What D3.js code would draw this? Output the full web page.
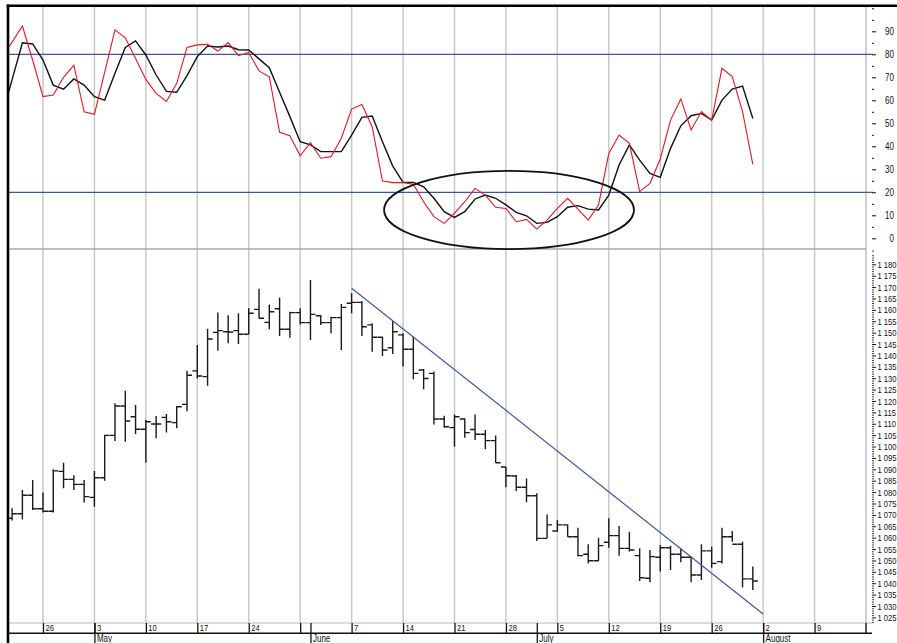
<!DOCTYPE html>
<html><head><meta charset="utf-8">
<script src="https://cdn.jsdelivr.net/npm/d3@7"></script>
<style>
body{margin:0;background:#fff}
svg{display:block}
text{font-family:"Liberation Sans",Arial,sans-serif;fill:#111}
</style>
</head><body><svg id="c" width="897" height="643"></svg>
<script>
// ---------- DATA ----------
const firstDay = "2004-04-20";           // first weekday slot (stochastic starts here)
const barsStart = "2004-04-21";          // OHLC bars start here
const openP  = [1068.5,1070.5,1078.6,1072.7,1071.6,1089.1,1085.6,1083.4,1077.7,1086.3,1104.9,1117.8,1113.1,1107.6,1109.9,1112.8,1110.5,1118.5,1133.2,1130.7,1150.1,1150.4,1150.9,1149.3,1160.2,1154.5,1160.5,1151.5,1158.8,1154.4,1157.4,1154.4,1156.6,1162.9,1163.3,1153.4,1148.0,1143.4,1149.0,1142.7,1133.6,1132.1,1112.1,1108.3,1112.1,1107.5,1105.4,1102.6,1091.0,1087.1,1082.1,1078.4,1059.7,1062.9,1065.6,1060.4,1052.7,1049.9,1058.0,1060.9,1055.3,1052.1,1042.2,1051.4,1055.6,1052.7,1051.4,1043.6,1054.2,1049.5,1060.4,1057.1,1041.9];
const highP  = [1072.9,1080.9,1085.3,1079.8,1090.0,1092.9,1087.4,1085.3,1089.3,1105.2,1119.0,1124.5,1118.2,1111.7,1113.4,1114.3,1117.8,1133.3,1144.6,1151.7,1158.8,1157.6,1158.5,1160.7,1169.3,1162.3,1165.4,1159.2,1160.7,1173.1,1157.7,1157.0,1162.6,1167.3,1163.9,1154.1,1148.2,1155.1,1149.7,1148.2,1134.0,1132.9,1113.5,1114.1,1112.4,1114.1,1107.3,1104.8,1091.0,1087.5,1086.0,1079.5,1070.2,1067.8,1065.8,1064.4,1057.1,1060.0,1068.5,1065.1,1062.6,1055.3,1054.6,1056.8,1056.5,1055.3,1051.7,1057.1,1056.0,1064.4,1062.9,1058.2,1047.3];
const lowP   = [1067.5,1068.0,1072.1,1071.0,1071.0,1081.7,1080.9,1075.4,1073.6,1085.0,1102.4,1102.1,1105.5,1092.9,1103.6,1106.2,1108.0,1115.5,1129.9,1126.7,1142.1,1145.3,1145.0,1149.3,1156.3,1151.5,1148.5,1147.8,1153.6,1146.8,1153.3,1149.7,1142.4,1158.5,1148.5,1141.6,1139.7,1140.6,1135.1,1129.5,1125.1,1109.7,1108.3,1099.9,1103.9,1102.9,1098.8,1092.9,1082.1,1080.5,1075.5,1058.5,1059.7,1062.6,1060.4,1051.7,1048.7,1049.8,1055.6,1052.1,1053.9,1041.0,1040.4,1045.1,1045.8,1049.2,1040.4,1041.4,1046.8,1048.7,1058.2,1038.1,1037.0];
const closeP = [1070.5,1078.6,1072.7,1071.6,1089.3,1085.6,1083.4,1078.0,1086.3,1104.9,1117.8,1111.2,1107.6,1110.9,1109.9,1110.9,1117.5,1131.3,1131.0,1147.2,1150.9,1150.3,1149.3,1158.5,1156.3,1159.2,1151.5,1158.8,1154.4,1158.0,1154.4,1156.6,1161.1,1163.3,1152.6,1148.0,1142.4,1150.4,1142.7,1132.1,1129.9,1112.1,1108.7,1113.1,1106.1,1105.4,1102.6,1092.9,1087.2,1082.1,1078.4,1059.7,1065.6,1065.6,1060.4,1052.1,1049.9,1056.5,1060.9,1055.3,1054.6,1042.4,1051.7,1055.6,1052.7,1051.4,1043.6,1054.2,1048.7,1060.4,1057.1,1041.9,1041.0];
const pctK = [78.6,85.3,92.3,77.4,61.6,62.3,70.0,75.3,55.0,53.9,72.3,90.6,87.2,78.2,69.1,63.0,59.5,67.4,83.0,84.1,84.3,81.4,85.1,79.4,80.8,72.8,70.2,46.1,44.6,35.9,41.6,34.8,35.5,43.5,56.2,58.2,48.5,24.9,24.2,24.2,23.5,15.9,9.4,6.5,10.9,15.9,21.7,18.8,13.5,13.0,7.2,8.2,4.0,7.9,13.0,17.4,12.7,7.9,14.5,36.9,44.9,41.3,20.3,23.9,34.5,51.4,60.6,47.1,55.1,51.4,73.9,70.3,55.1,32.1];
const pctD = [53.2,69.0,85.0,84.5,77.5,66.6,64.8,69.3,66.6,61.6,60.1,71.8,83.0,85.8,79.7,71.0,63.9,63.5,70.7,79.0,83.6,83.2,83.6,82.0,81.9,78.0,74.2,63.5,52.9,42.0,40.6,37.7,37.7,37.7,44.9,52.6,53.2,42.0,31.4,24.3,24.3,22.4,17.4,11.6,9.1,11.6,17.1,18.8,17.4,14.5,11.3,9.8,6.5,6.9,9.4,13.5,14.2,12.7,12.3,18.8,31.9,40.6,34.0,28.2,26.5,39.1,48.9,53.3,54.3,51.4,60.1,64.9,66.2,52.1];
const weekTickDates  = ["2004-04-26","2004-05-03","2004-05-10","2004-05-17","2004-05-24","2004-05-31","2004-06-07","2004-06-14","2004-06-21","2004-06-28","2004-07-05","2004-07-12","2004-07-19","2004-07-26","2004-08-02","2004-08-09"];
const weekTickLabels = ["26","3","10","17","24","","7","14","21","28","5","12","19","26","2","9"];
const monthTickDates  = ["2004-05-03","2004-06-01","2004-07-01","2004-08-02"];
const monthTickLabels = ["May","June","July","August"];
const stochLevels = [80, 20];
const trendLine = [{date:"2004-06-07", value:1169.5}, {date:"2004-08-02", value:1026.5}];
const ellipseNote = {fromSlot:37.15, toSlot:61.45, top:29.3, bottom:-4.7};

// ---------- SETUP ----------
const svg = d3.select("#c");
const parse = d3.timeParse("%Y-%m-%d");
const t0 = parse(firstDay);
const slotOf = ds => d3.timeDays(t0, parse(ds)).filter(d => d.getDay() % 6 !== 0).length;
const barOffset = slotOf(barsStart);
const NARROW = 0.8;   // emulate a condensed face

const L = 8, R = 866;
const x = d3.scaleLinear().domain([0.6, 84]).range([L, R]);
const yTop = d3.scaleLinear().domain([0, 100]).range([238.3, 8.3]);
const yBot = d3.scaleLinear().domain([1025, 1180]).range([617.4, 264.3]);

const defs = svg.append("defs");
defs.append("clipPath").attr("id","clipTop").append("rect").attr("x",L+1).attr("y",6).attr("width",R-L-1).attr("height",243);
defs.append("clipPath").attr("id","clipBot").append("rect").attr("x",L+1).attr("y",250).attr("width",R-L-1).attr("height",373);

// gridlines
const weekSlots = weekTickDates.map(slotOf);
const monthSlots = monthTickDates.map(slotOf);
svg.append("g").selectAll("line").data(weekSlots).join("line")
  .attr("x1", d => x(d)).attr("x2", d => x(d)).attr("y1", 6).attr("y2", 623)
  .attr("stroke", "#c8c8c8").attr("stroke-width", 1.5);
svg.append("line").attr("x1",R).attr("x2",R).attr("y1",6).attr("y2",623).attr("stroke","#c0c0c0").attr("stroke-width",1.5);

// panel separator
svg.append("line").attr("x1",L).attr("x2",R).attr("y1",249).attr("y2",249).attr("stroke","#a8a8a8").attr("stroke-width",1.5);

// ---------- TOP PANEL ----------
svg.append("g").selectAll("line").data(stochLevels).join("line")
  .attr("x1", L).attr("x2", 873).attr("y1", d => yTop(d)).attr("y2", d => yTop(d))
  .attr("stroke", "#3b56a6").attr("stroke-width", 1.3);

const gTop = svg.append("g").attr("clip-path","url(#clipTop)");
const lineK = d3.line().x((d,i) => x(i)).y(d => yTop(d));
gTop.append("path").attr("d", lineK(pctD)).attr("fill","none").attr("stroke","#111").attr("stroke-width",1.4);
gTop.append("path").attr("d", lineK(pctK)).attr("fill","none").attr("stroke","#e8161e").attr("stroke-width",1.1);

svg.append("ellipse")
  .attr("cx", (x(ellipseNote.fromSlot)+x(ellipseNote.toSlot))/2)
  .attr("cy", (yTop(ellipseNote.top)+yTop(ellipseNote.bottom))/2)
  .attr("rx", (x(ellipseNote.toSlot)-x(ellipseNote.fromSlot))/2)
  .attr("ry", (yTop(ellipseNote.bottom)-yTop(ellipseNote.top))/2)
  .attr("fill","none").attr("stroke","#111").attr("stroke-width",1.8);

// ---------- BOTTOM PANEL ----------
const gBot = svg.append("g").attr("clip-path","url(#clipBot)");
const bars = openP.map((o,j) => ({s: j + barOffset, o, h: highP[j], l: lowP[j], c: closeP[j]}));
const tick = 5;
const bg = gBot.append("g").attr("stroke","#1a1a1a").attr("stroke-width",1.4).attr("fill","none");
bg.selectAll("path").data(bars).join("path")
  .attr("d", d => {
    const cx = x(d.s);
    return `M${cx},${yBot(d.h)}V${yBot(d.l)}M${cx-tick},${yBot(d.o)}H${cx}M${cx},${yBot(d.c)}H${cx+tick}`;
  });

gBot.append("line")
  .attr("x1", x(slotOf(trendLine[0].date))).attr("y1", yBot(trendLine[0].value))
  .attr("x2", x(slotOf(trendLine[1].date))).attr("y2", yBot(trendLine[1].value))
  .attr("stroke","#3b56a6").attr("stroke-width",1.2);

// ---------- RIGHT AXES ----------
const AX = 872;
function styleAxis(g){ g.select(".domain").remove(); g.selectAll(".tick line").attr("stroke","#111"); }
const topMajor = svg.append("g").attr("transform",`translate(${AX},0)`)
  .call(d3.axisRight(yTop).tickValues(d3.range(0,100,10)).tickSize(4).tickFormat(d3.format("d")));
styleAxis(topMajor);
topMajor.selectAll("text").attr("x",0).attr("text-anchor","end")
  .attr("transform",`translate(22,0) scale(${NARROW},1)`).style("font-size","10px").attr("fill","#111");
const topMinor = svg.append("g").attr("transform",`translate(${AX},0)`)
  .call(d3.axisRight(yTop).tickValues(d3.range(5,100,10).concat([100])).tickSize(2).tickFormat(""));
styleAxis(topMinor);

const fmtSpace = d3.formatLocale({decimal:".", thousands:" ", grouping:[3], currency:["",""]}).format(",d");
const botMajor = svg.append("g").attr("transform",`translate(${AX},0)`)
  .call(d3.axisRight(yBot).tickValues(d3.range(1025,1181,5)).tickSize(4).tickFormat(fmtSpace));
styleAxis(botMajor);
botMajor.selectAll("text").attr("x",0)
  .attr("transform",`translate(5.5,0) scale(${NARROW},1)`).style("font-size","9.5px").attr("fill","#111");
const botMinor = svg.append("g").attr("transform",`translate(${AX},0)`)
  .call(d3.axisRight(yBot).tickValues(d3.range(1023,1187,1).filter(v => v % 5 !== 0)).tickSize(2).tickFormat(""));
styleAxis(botMinor);
botMinor.selectAll(".tick line").attr("stroke","#444");

// ---------- DATE AXES ----------
svg.append("line").attr("x1",L).attr("x2",872).attr("y1",623).attr("y2",623).attr("stroke","#b8b8b8").attr("stroke-width",1.2);
svg.append("line").attr("x1",L).attr("x2",872).attr("y1",633.3).attr("y2",633.3).attr("stroke","#111").attr("stroke-width",1.6);
svg.append("line").attr("x1",R).attr("x2",R).attr("y1",623).attr("y2",634).attr("stroke","#111").attr("stroke-width",1.4);

const weekAxis = svg.append("g").attr("transform","translate(0,623)")
  .call(d3.axisBottom(x).tickValues(weekSlots).tickSize(10).tickFormat((d,i) => weekTickLabels[i]));
weekAxis.select(".domain").remove();
weekAxis.selectAll(".tick line").attr("stroke","#111").attr("stroke-width",1.3);
weekAxis.selectAll("text").attr("x",0).attr("y",0).attr("dy",null).attr("text-anchor","start")
  .attr("transform",`translate(2,8.3) scale(${NARROW},1)`).style("font-size","9.5px").attr("fill","#111");

const monthAxis = svg.append("g").attr("transform","translate(0,623)")
  .call(d3.axisBottom(x).tickValues(monthSlots).tickSize(20).tickFormat((d,i) => monthTickLabels[i]));
monthAxis.select(".domain").remove();
monthAxis.selectAll(".tick line").attr("stroke","#111").attr("stroke-width",1.3);
monthAxis.selectAll("text").attr("x",0).attr("y",0).attr("dy",null).attr("text-anchor","start")
  .attr("transform",`translate(2,18.5) scale(${NARROW},1)`).style("font-size","10px").attr("fill","#111");

// ---------- FRAME ----------
svg.append("line").attr("x1",L-1.3).attr("x2",897).attr("y1",5.7).attr("y2",5.7).attr("stroke","#000").attr("stroke-width",2.6);
svg.append("line").attr("x1",L).attr("x2",L).attr("y1",4.4).attr("y2",643).attr("stroke","#000").attr("stroke-width",2.6);
</script></body></html>
